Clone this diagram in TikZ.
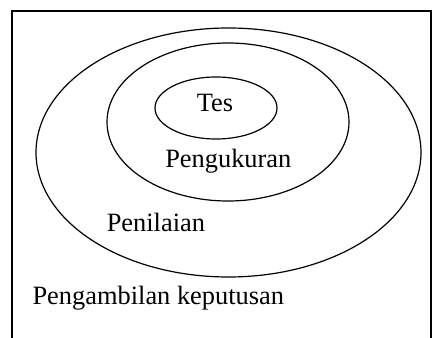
\documentclass[tikz,border=0pt]{standalone}
\usepackage{fontspec}
\setmainfont{Liberation Serif}
\usepackage{tikz}
\usetikzlibrary{shapes.geometric}
\tikzstyle{ring}=[draw, ellipse, line width=0.9pt, inner sep=0pt]
\tikzstyle{word}=[anchor=base west, inner sep=0pt, font=\fontsize{19.8}{24}\selectfont]

\begin{document}
\begin{tikzpicture}[x=0.75pt, y=-0.75pt]
            \useasboundingbox (0,0) rectangle (433,338);

            % frame, open at the bottom
            \coordinate (bl) at (12,338);
            \coordinate (tl) at (12,11);
            \coordinate (tr) at (431,11);
            \coordinate (br) at (431,338);
            \draw[line width=1.3pt] (bl) -- (tl) -- (tr) -- (br);

            \node[ring, minimum width=385*0.75pt, minimum height=249*0.75pt] (keputusan) at (228.5,152.5) {};
            \node[ring, minimum width=242*0.75pt, minimum height=158*0.75pt] (penilaian) at (228,122) {};
            \node[ring, minimum width=122*0.75pt, minimum height=62*0.75pt] (pengukuran) at (216,108) {};

            \node[word] (tes) at (196.5,111.5) {Tes};
            \node[word] (ukur) at (165,168) {Pengukuran};
            \node[word] (nilai) at (106.5,231.5) {Penilaian};
            \node[word] (ambil) at (32.3,305) {Pengambilan keputusan};
        \end{tikzpicture}
\end{document}
